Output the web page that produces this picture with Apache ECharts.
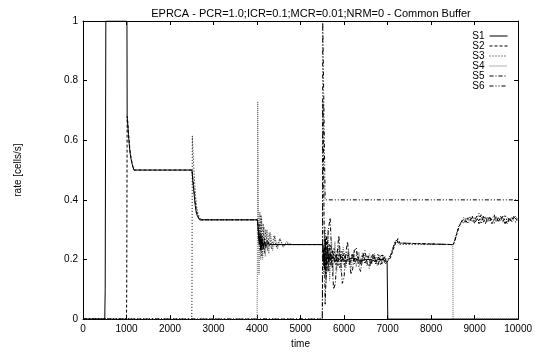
<!DOCTYPE html>
<html>
<head>
<meta charset="utf-8">
<script src="https://cdn.jsdelivr.net/npm/echarts@6/dist/echarts.min.js"></script>
<style>html,body{margin:0;padding:0;background:#fff}#c{width:535px;height:354px}</style>
</head>
<body>
<div id="c"></div>
<script>
const titleText = 'EPRCA - PCR=1.0;ICR=0.1;MCR=0.01;NRM=0 - Common Buffer';
const seriesNames = ['S1', 'S2', 'S3', 'S4', 'S5', 'S6'];
const xTicks = [0, 1000, 2000, 3000, 4000, 5000, 6000, 7000, 8000, 9000, 10000];
const yTicks = [0, 0.2, 0.4, 0.6, 0.8, 1];

const s1 = [[0,0],[500,0],[510,0.1],[522,0.1],[525,1],[1010,1],[1015,0.68],[1030,0.65],[1045,0.62],[1060,0.59],[1080,0.56],[1100,0.54],[1130,0.52],[1170,0.5],[2505,0.5],[2520,0.47],[2540,0.44],[2560,0.41],[2580,0.38],[2600,0.36],[2630,0.345],[2680,0.333],[4010,0.333],[4030,0.3],[4050,0.25],[4070,0.28],[4090,0.23],[4110,0.27],[4140,0.24],[4170,0.26],[4200,0.245],[4250,0.255],[4300,0.25],[5510,0.25],[5530,0.22],[5550,0.17],[5570,0.27],[5590,0.18],[5620,0.24],[5650,0.19],[5680,0.22],[5710,0.2],[5750,0.21],[5800,0.195],[5850,0.205],[5900,0.2],[5950,0.21],[6000,0.195],[6100,0.2],[6200,0.205],[6300,0.2],[6400,0.195],[6500,0.2],[6600,0.2],[6700,0.195],[6800,0.2],[6900,0.2],[6990,0.19],[7000,0.19],[7005,0],[10000,0]];

const s2Head = [[0,0],[1000,0],[1005,0.1],[1012,0.1],[1015,0.68],[1030,0.66],[1045,0.62],[1060,0.6],[1080,0.565],[1100,0.545],[1130,0.52],[1170,0.5],[2505,0.5],[2520,0.48],[2540,0.45],[2560,0.42],[2580,0.39],[2600,0.37],[2630,0.35],[2680,0.333],[4010,0.333],[4030,0.29],[4050,0.26],[4070,0.29],[4090,0.235],[4110,0.28],[4140,0.235],[4170,0.27],[4200,0.24],[4240,0.265],[4280,0.245],[4330,0.255],[4400,0.25],[5510,0.25],[5530,0.18],[5550,0.24],[5570,0.15],[5600,0.28],[5630,0.16],[5660,0.25],[5700,0.18],[5740,0.23],[5780,0.19],[5820,0.22],[5860,0.18],[5900,0.23],[5950,0.19],[6000,0.22],[6050,0.185],[6100,0.215],[6150,0.19],[6200,0.22],[6260,0.19],[6320,0.21],[6380,0.185],[6440,0.215],[6500,0.19],[6560,0.21],[6620,0.185],[6680,0.215],[6740,0.19],[6800,0.21],[6860,0.185],[6920,0.21],[6980,0.19],[7040,0.2],[7080,0.21],[7120,0.23],[7160,0.245],[7200,0.26],[7240,0.27],[7280,0.255],[7320,0.25],[8510,0.25],[8540,0.26],[8580,0.28],[8620,0.3],[8660,0.315],[8700,0.325]];

const s3Head = [[0,0],[2500,0],[2505,0.1],[2510,0.1],[2512,0.615],[2530,0.56],[2550,0.5],[2570,0.45],[2590,0.41],[2610,0.38],[2640,0.355],[2680,0.34],[2720,0.333],[4010,0.333],[4030,0.27],[4050,0.32],[4070,0.23],[4090,0.35],[4110,0.21],[4140,0.32],[4170,0.22],[4200,0.3],[4240,0.23],[4280,0.29],[4330,0.235],[4390,0.28],[4450,0.24],[4520,0.27],[4600,0.245],[4700,0.255],[4800,0.25],[5510,0.25],[5530,0.2],[5560,0.31],[5590,0.14],[5620,0.26],[5650,0.16],[5690,0.25],[5730,0.17],[5770,0.24],[5810,0.18],[5850,0.235],[5900,0.17],[5950,0.23],[6000,0.18],[6060,0.225],[6120,0.18],[6180,0.22],[6240,0.185],[6300,0.225],[6360,0.18],[6420,0.22],[6480,0.185],[6540,0.215],[6600,0.18],[6660,0.215],[6720,0.185],[6780,0.22],[6840,0.18],[6900,0.215],[6960,0.185],[7020,0.2],[7070,0.215],[7110,0.235],[7150,0.25],[7190,0.265],[7230,0.26],[7270,0.25],[8510,0.25],[8550,0.27],[8590,0.29],[8630,0.31],[8670,0.32],[8710,0.33]];

const s4 = [[0,0],[4000,0],[4005,0.1],[4012,0.1],[4015,0.73],[4030,0.4],[4045,0.15],[4065,0.36],[4085,0.2],[4105,0.34],[4130,0.2],[4160,0.31],[4190,0.21],[4230,0.3],[4270,0.22],[4310,0.29],[4360,0.23],[4410,0.28],[4470,0.235],[4530,0.27],[4600,0.24],[4680,0.26],[4760,0.25],[5510,0.25],[5530,0.15],[5560,0.29],[5590,0.12],[5630,0.3],[5670,0.13],[5710,0.27],[5750,0.15],[5790,0.26],[5830,0.16],[5880,0.25],[5930,0.16],[5980,0.24],[6040,0.17],[6100,0.235],[6160,0.17],[6220,0.23],[6280,0.175],[6340,0.225],[6400,0.18],[6460,0.22],[6520,0.18],[6580,0.22],[6640,0.185],[6700,0.22],[6760,0.18],[6820,0.215],[6880,0.185],[6940,0.21],[7000,0.195],[7060,0.21],[7100,0.225],[7140,0.245],[7180,0.26],[7220,0.265],[7260,0.255],[7300,0.25],[8500,0.25],[8505,0],[10000,0]];

const s5Head = [[0,0],[5500,0],[5505,0.1],[5512,0.1],[5515,0.73],[5540,0.35],[5565,0.05],[5600,0.2],[5640,0.3],[5680,0.34],[5720,0.2],[5760,0.1],[5800,0.12],[5840,0.22],[5880,0.28],[5920,0.2],[5960,0.12],[6000,0.14],[6040,0.22],[6080,0.26],[6120,0.2],[6160,0.15],[6200,0.17],[6240,0.23],[6280,0.24],[6330,0.18],[6380,0.16],[6430,0.21],[6480,0.23],[6530,0.19],[6580,0.17],[6630,0.21],[6680,0.22],[6730,0.19],[6780,0.18],[6830,0.21],[6880,0.215],[6930,0.19],[6980,0.2],[7040,0.205],[7090,0.22],[7130,0.24],[7170,0.255],[7210,0.265],[7250,0.255],[7290,0.25],[8510,0.25],[8550,0.265],[8590,0.285],[8630,0.305],[8670,0.32],[8710,0.33]];

const s6 = [[0,0],[5500,0],[5503,0.1],[5508,0.1],[5510,1],[5555,1],[5565,0.4],[10000,0.4]];

const tailTimes = [8750,8800,8850,8900,8950,9000,9050,9100,9150,9200,9250,9300,9350,9400,9450,9500,9550,9600,9650,9700,9750,9800,9850,9900,9950,10000];
const s2Tail = [0.335,0.325,0.34,0.33,0.345,0.32,0.335,0.33,0.35,0.325,0.34,0.33,0.345,0.32,0.335,0.34,0.325,0.345,0.33,0.335,0.32,0.34,0.33,0.345,0.335,0.33];
const s3Tail = [0.32,0.34,0.33,0.345,0.325,0.34,0.33,0.355,0.32,0.335,0.345,0.325,0.34,0.335,0.32,0.345,0.33,0.34,0.325,0.35,0.33,0.325,0.34,0.33,0.325,0.34];
const s5Tail = [0.34,0.33,0.32,0.335,0.34,0.33,0.345,0.32,0.33,0.345,0.32,0.34,0.33,0.335,0.35,0.325,0.34,0.33,0.345,0.32,0.34,0.335,0.325,0.34,0.345,0.33];

function withTail(head, tail) {
  return head.concat(tailTimes.map((t, i) => [t, tail[i]]));
}

const dataSets = [s1, withTail(s2Head, s2Tail), withTail(s3Head, s3Tail), s4, withTail(s5Head, s5Tail), s6];
const styles = [
  { type: 'solid', color: '#000' },
  { type: [3, 2], color: '#000' },
  { type: [1, 2], color: '#000' },
  { type: [1, 1], color: '#666' },
  { type: [4, 2, 1, 2], color: '#000' },
  { type: [4, 2, 1, 2, 1, 2], color: '#000' }
];

const FONT = 'Liberation Sans, Arial, Helvetica, sans-serif';
const chart = echarts.init(document.getElementById('c'), null, { renderer: 'canvas' });

const axisCommon = {
  type: 'value',
  axisLine: { show: true, onZero: false, lineStyle: { color: '#000', width: 1 } },
  axisTick: { show: true, inside: true, length: 4, lineStyle: { color: '#000' } },
  splitLine: { show: false }
};

chart.setOption({
  animation: false,
  backgroundColor: '#fff',
  title: {
    text: titleText,
    left: 306, top: 3, textAlign: 'center',
    textStyle: { fontFamily: FONT, fontSize: 11, fontWeight: 'normal', color: '#000' }
  },
  legend: {
    orient: 'vertical', right: 22, top: 26, align: 'right',
    itemWidth: 18, itemHeight: 10, itemGap: 0,
    data: seriesNames,
    itemStyle: { color: 'rgba(0,0,0,0)', borderColor: 'rgba(0,0,0,0)', borderWidth: 0, opacity: 0 },
    lineStyle: { width: 1 },
    textStyle: { fontFamily: FONT, fontSize: 10, color: '#000', lineHeight: 10 }
  },
  grid: { left: 83, right: 14, top: 21, bottom: 26, containLabel: false },
  xAxis: [
    Object.assign({}, axisCommon, {
      position: 'bottom', min: xTicks[0], max: xTicks[xTicks.length - 1], interval: xTicks[1] - xTicks[0],
      name: 'time', nameLocation: 'middle', nameGap: 15,
      nameTextStyle: { fontFamily: FONT, fontSize: 10, color: '#000' },
      axisLabel: { fontFamily: FONT, fontSize: 10, color: '#000', margin: 5, formatter: v => String(v) }
    }),
    Object.assign({}, axisCommon, {
      position: 'top', min: xTicks[0], max: xTicks[xTicks.length - 1], interval: xTicks[1] - xTicks[0],
      axisLabel: { show: false }
    })
  ],
  yAxis: [
    Object.assign({}, axisCommon, {
      position: 'left', min: yTicks[0], max: yTicks[yTicks.length - 1], interval: yTicks[1] - yTicks[0],
      name: 'rate [cells/s]', nameLocation: 'middle', nameGap: 60, nameRotate: 90,
      nameTextStyle: { fontFamily: FONT, fontSize: 10, color: '#000' },
      axisLabel: { fontFamily: FONT, fontSize: 10, color: '#000', margin: 5, formatter: v => String(Math.round(v * 10) / 10) }
    }),
    Object.assign({}, axisCommon, {
      position: 'right', min: yTicks[0], max: yTicks[yTicks.length - 1], interval: yTicks[1] - yTicks[0],
      axisLabel: { show: false }
    })
  ],
  series: seriesNames.map((name, i) => ({
    name: name,
    type: 'line',
    xAxisIndex: 0, yAxisIndex: 0,
    data: dataSets[i],
    showSymbol: false, symbol: 'none',
    lineStyle: { width: 1, type: styles[i].type, color: styles[i].color },
    itemStyle: { color: styles[i].color },
    z: 10 - i
  }))
});
</script>
</body>
</html>
